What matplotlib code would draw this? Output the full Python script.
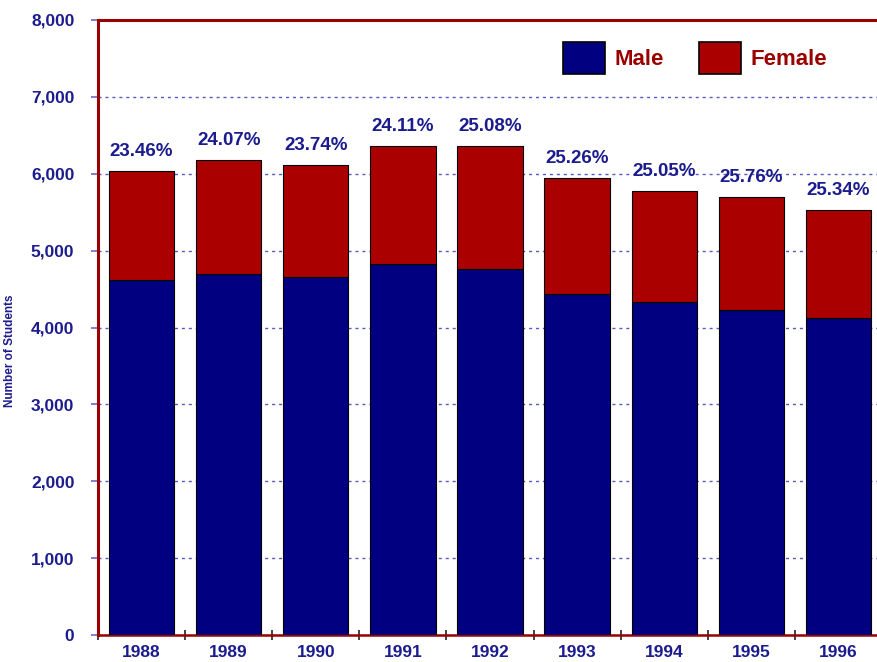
import matplotlib.pyplot as plt
from matplotlib.patches import Patch
from matplotlib.ticker import FuncFormatter, MultipleLocator, FixedLocator
import numpy as np

years = ['1988', '1989', '1990', '1991', '1992', '1993', '1994', '1995', '1996']
male = [4615, 4690, 4660, 4825, 4765, 4440, 4332, 4225, 4125]
female = [1415, 1487, 1450, 1533, 1595, 1502, 1448, 1470, 1400]
pct_labels = ['23.46%', '24.07%', '23.74%', '24.11%', '25.08%',
              '25.26%', '25.05%', '25.76%', '25.34%']

NAVY = '#000080'
RED = '#aa0000'
DARKRED = '#990000'
TEXT_BLUE = '#1c1c8e'

plt.rcParams['font.family'] = ['Liberation Sans', 'DejaVu Sans']

fig = plt.figure(figsize=(8.77, 6.62), dpi=100)
ax = fig.add_axes([98 / 877, 27 / 662, 784 / 877, 615 / 662])

x = np.arange(len(years))
ax.bar(x, male, width=0.75, color=NAVY, edgecolor='black', linewidth=0.8, zorder=3)
ax.bar(x, female, width=0.75, bottom=male, color=RED, edgecolor='black',
       linewidth=0.8, zorder=3)

# share of female students above each bar
totals = np.array(male) + np.array(female)
for xi, t, lab in zip(x, totals, pct_labels):
    ax.annotate(lab, (xi, t), xytext=(0, 8), textcoords='offset points',
                ha='center', va='bottom', fontsize=13.5, fontweight='bold',
                color=TEXT_BLUE, zorder=4)

ax.set_xlim(-0.5, len(years) - 0.5)
ax.set_ylim(0, 8000)

ax.yaxis.set_major_locator(MultipleLocator(1000))
ax.yaxis.set_major_formatter(FuncFormatter(lambda v, p: f'{int(v):,}'))
ax.grid(axis='y', color='#5a5ac0', linestyle=(0, (2.2, 2.8)), linewidth=1.0, zorder=0)
ax.set_axisbelow(True)

ax.set_xticks(x)
ax.set_xticklabels(years)
ax.xaxis.set_minor_locator(FixedLocator(np.arange(-0.5, len(years), 1.0)))
ax.tick_params(axis='x', which='major', length=0, pad=7, labelsize=12.5,
               labelcolor=TEXT_BLUE)
ax.tick_params(axis='x', which='minor', length=7, direction='inout', width=1.2,
               color='#222222')
ax.tick_params(axis='y', which='major', length=5, width=1.2, color='#6a6ac8',
               pad=12, labelsize=12.5, labelcolor=TEXT_BLUE)
for lab in ax.get_xticklabels() + ax.get_yticklabels():
    lab.set_fontweight('bold')

for side in ['left', 'top', 'bottom']:
    ax.spines[side].set_color(DARKRED)
    ax.spines[side].set_linewidth(2.2)
ax.spines['bottom'].set_linewidth(1.8)
ax.spines['right'].set_visible(False)

ax.set_ylabel('Number of Students', fontsize=8.5, fontweight='bold', color=TEXT_BLUE)
ax.yaxis.set_label_coords(-0.105, 0.463)

handles = [Patch(facecolor=NAVY, edgecolor='black', linewidth=1.2, label='Male'),
           Patch(facecolor=RED, edgecolor='black', linewidth=1.2, label='Female')]
leg = fig.legend(handles=handles, loc='center left',
                 bbox_to_anchor=(563 / 877, 1 - 58 / 662), ncol=2, frameon=False,
                 fontsize=16, handlelength=1.9, handleheight=1.85,
                 handletextpad=0.4, columnspacing=1.6, borderpad=0,
                 borderaxespad=0)
for t in leg.get_texts():
    t.set_color(DARKRED)
    t.set_fontweight('bold')

fig.savefig('out.png', dpi=100)
